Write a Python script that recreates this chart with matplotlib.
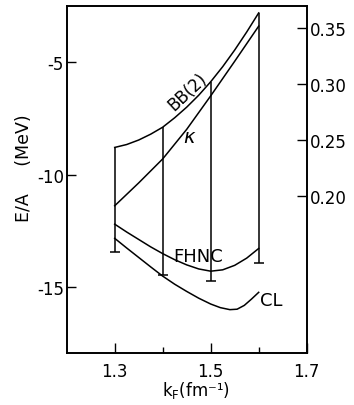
import matplotlib
matplotlib.use("Agg")
import matplotlib.pyplot as plt

# ---- data ----
kf = [1.300, 1.325, 1.350, 1.375, 1.400, 1.425, 1.450, 1.475,
      1.500, 1.525, 1.550, 1.575, 1.600]
bb2 = [-8.78, -8.65, -8.45, -8.19, -7.88, -7.46, -6.99, -6.46,
       -5.86, -5.19, -4.45, -3.65, -2.80]                      # E/A (MeV)
fhnc = [-12.19, -12.54, -12.87, -13.20, -13.50, -13.77, -14.00, -14.18,
        -14.28, -14.22, -14.02, -13.70, -13.27]                # E/A (MeV)
kf_cl = [1.300, 1.325, 1.350, 1.375, 1.400, 1.425, 1.450, 1.475, 1.500,
         1.520, 1.540, 1.555, 1.570, 1.585, 1.600]
cl = [-12.82, -13.25, -13.67, -14.09, -14.50, -14.86, -15.18, -15.48, -15.74,
      -15.90, -15.99, -15.97, -15.80, -15.52, -15.22]          # E/A (MeV)
kf_k = [1.30, 1.35, 1.40, 1.45, 1.50, 1.55, 1.60]
kappa = [0.191, 0.2115, 0.233, 0.2595, 0.2895, 0.3205, 0.352]  # right axis

kf_bars = [1.3, 1.4, 1.5, 1.6]
bar_low = [-13.44, -14.45, -14.70, -13.92]

xticks = [1.3, 1.5, 1.7]
xticklabels = ["1.3", "1.5", "1.7"]
yticks = [-5, -10, -15]
yticklabels = ["-5", "-10", "-15"]
rticks = [0.20, 0.25, 0.30, 0.35]
rticklabels = ["0.20", "0.25", "0.30", "0.35"]

# ---- figure ----
W, H = 354, 406
fig = plt.figure(figsize=(W / 100, H / 100), dpi=100)
L, R, T, B = 66.7, 306.7, 6.7, 354.3
ax = fig.add_axes([L / W, 1 - B / H, (R - L) / W, (B - T) / H])
ax.set_xlim(1.2, 1.695)
ax.set_ylim(-17.93, -2.48)

lw = 1.1
ax.plot(kf, bb2, color="black", lw=lw)
ax.plot(kf, fhnc, color="black", lw=lw)
ax.plot(kf_cl, cl, color="black", lw=lw)

bar_top = [bb2[kf.index(k)] for k in kf_bars]
ax.vlines(kf_bars, bar_low, bar_top, color="black", lw=lw)
ax.plot(kf_bars, bar_low, ls="none", marker="_", ms=7, mew=lw, color="black")

ax2 = ax.twinx()
ax2.set_ylim(0.0588, 0.3703)
ax2.plot(kf_k, kappa, color="black", lw=lw)

fs = 12
ax.set_xticks(xticks)
ax.set_xticklabels(xticklabels, fontsize=fs)
ax.set_xticks([1.4, 1.6], minor=True)
ax.set_yticks(yticks)
ax.set_yticklabels(yticklabels, fontsize=fs)
ax.tick_params(axis="x", which="major", direction="in", length=7, width=1.0, pad=6)
ax.tick_params(axis="x", which="minor", direction="in", length=4.5, width=1.0)
ax.tick_params(axis="y", which="major", direction="in", length=6.5, width=1.0, pad=2)
ax.tick_params(axis="y", which="minor", left=False)

ax2.set_yticks(rticks)
ax2.set_yticklabels(rticklabels, fontsize=fs)
ax2.tick_params(axis="y", direction="in", length=7, width=1.0, pad=2)

for a in (ax, ax2):
    for s in a.spines.values():
        s.set_linewidth(1.2)

ax.set_xlabel("k$_\\mathregular{F}$(fm\u207b\u00b9)", fontsize=fs)
ax.xaxis.set_label_coords(0.54, -0.075, transform=ax.transAxes)
ax.xaxis.label.set_va("top")
ax.set_ylabel("E/A     (MeV)", fontsize=12.5)
ax.yaxis.set_label_coords(-0.14, 0.536, transform=ax.transAxes)

def px(x, y):
    return (x / W, 1 - y / H)

fig.text(*px(187.5, 92.5), "BB(2)", fontsize=fs, rotation=43,
         ha="center", va="center")
fig.text(*px(190, 138), r"$\kappa$", fontsize=fs + 2, ha="center", va="center")
fig.text(*px(198.5, 256.5), "FHNC", fontsize=13, ha="center", va="center")
fig.text(*px(271, 301), "CL", fontsize=13, ha="center", va="center")

fig.savefig("out.png", dpi=100)
